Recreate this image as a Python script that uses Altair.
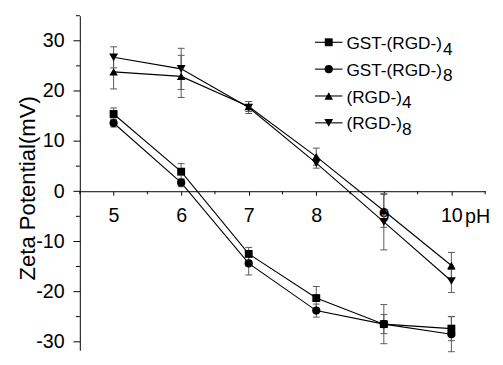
import altair as alt
import pandas as pd

# ---------------- data ----------------
ph = [5, 6, 7, 8, 9, 10]
series_names = ["GST-(RGD-)4", "GST-(RGD-)8", "(RGD-)4", "(RGD-)8"]
legend_main = ["GST-(RGD-)", "GST-(RGD-)", "(RGD-)", "(RGD-)"]
legend_sub = ["4", "8", "4", "8"]

gst4 = [15.4, 3.9, -12.5, -21.3, -26.5, -27.4]
gst4_err = [1.2, 1.6, 1.3, 2.3, 3.9, 2.4]
gst8 = [13.6, 1.7, -14.4, -23.8, -26.5, -28.5]
gst8_err = [0.8, 0.8, 2.3, 1.3, 1.9, 3.5]
rgd4 = [23.8, 22.9, 16.9, 6.9, -3.9, -14.8]
rgd4_err = [3.4, 4.2, 1.0, 1.7, 3.3, 2.6]
rgd8 = [26.7, 24.4, 16.7, 5.6, -6.1, -17.9]
rgd8_err = [2.1, 4.1, 1.2, 1.0, 5.6, 2.3]

y_major = [-30, -20, -10, 0, 10, 20, 30]
y_minor = [-25, -15, -5, 5, 15, 25, 35]
x_major = [5, 6, 7, 8, 9, 10]
x_minor = [4.5, 5.5, 6.5, 7.5, 8.5, 9.5, 10.5]

# ---------------- styling / layout ----------------
shapes = ["square", "circle", "triangle-up", "triangle-down"]
sizes = [64, 81, 100, 100]
FONT = "Liberation Sans"
W, H = 412, 340
XMIN, XMAX = 4.5, 10.5
YMIN, YMAX = -31.7, 35

values = [gst4, gst8, rgd4, rgd8]
errs = [gst4_err, gst8_err, rgd4_err, rgd8_err]
rows = []
for name, vals, es in zip(series_names, values, errs):
    for p, v, e in zip(ph, vals, es):
        rows.append({"ph": p, "value": v, "lo": v - e, "hi": v + e, "series": name})
df = pd.DataFrame(rows)

xs = alt.Scale(domain=[XMIN, XMAX], nice=False, zero=False)
ys = alt.Scale(domain=[YMIN, YMAX], nice=False, zero=False)
shape_scale = alt.Scale(domain=series_names, range=shapes)
size_scale = alt.Scale(domain=series_names, range=sizes)

x_zero_offset = -H * (0 - YMIN) / (YMAX - YMIN)

x_axis = alt.Axis(
    values=x_major, tickSize=4, offset=x_zero_offset, labelPadding=11,
    labelFontSize=20, labelFont=FONT, labelFlush=False, labelOverlap=False,
    labelExpr="'' + datum.value",
    title="pH", titleFont=FONT, titleFontSize=20, titleFontWeight="normal",
    titleX=391, titleY=32, titleAlign="left", titleBaseline="alphabetic",
    grid=False)
y_axis = alt.Axis(
    values=y_major, tickSize=7, labelPadding=9, labelFontSize=20,
    labelFont=FONT, labelFlush=False, labelOverlap=False,
    labelExpr="'' + datum.value",
    title="Zeta Potential(mV)", titleFont=FONT, titleFontSize=22.5,
    titleFontWeight="normal", titleAngle=270, titleX=-46, titleY=175,
    titleAlign="center", titleBaseline="alphabetic", grid=False)


def X(f):
    return alt.X(f, scale=xs, axis=x_axis)


def Y(f):
    return alt.Y(f, scale=ys, axis=y_axis)


base = alt.Chart(df)

lines = base.mark_line(color="black", strokeWidth=1.1).encode(
    x=X("ph:Q"), y=Y("value:Q"), detail="series:N",
)

ERR_COLOR = "#5a5a5a"
err_rules = base.mark_rule(color=ERR_COLOR, strokeWidth=1).encode(
    x=X("ph:Q"), y=Y("lo:Q"), y2="hi:Q",
)
cap_lo = base.mark_tick(orient="horizontal", color=ERR_COLOR, size=7, thickness=1, opacity=1).encode(
    x=X("ph:Q"), y=Y("lo:Q"),
)
cap_hi = base.mark_tick(orient="horizontal", color=ERR_COLOR, size=7, thickness=1, opacity=1).encode(
    x=X("ph:Q"), y=Y("hi:Q"),
)

points = base.mark_point(filled=True, color="black", opacity=1).encode(
    x=X("ph:Q"), y=Y("value:Q"),
    shape=alt.Shape("series:N", scale=shape_scale, legend=None),
    size=alt.Size("series:N", scale=size_scale, legend=None),
)

# minor ticks
ymin_df = pd.DataFrame({"v": y_minor, "x0": [XMIN] * len(y_minor)})
y_minor_ticks = alt.Chart(ymin_df).mark_tick(
    orient="horizontal", color="black", size=4, thickness=1, xOffset=-2, opacity=1
).encode(x=X("x0:Q"), y=Y("v:Q"))
xmin_df = pd.DataFrame({"v": x_minor, "y0": [0] * len(x_minor)})
x_minor_ticks = alt.Chart(xmin_df).mark_tick(
    orient="vertical", color="black", size=3, thickness=1, yOffset=1.5, opacity=1
).encode(x=X("v:Q"), y=Y("y0:Q"))

# ---------------- manual legend (with subscripts) ----------------
LEG_FS = 17.5
widths = {"G": 778, "S": 667, "T": 611, "-": 333, "(": 333, ")": 333, "R": 722, "D": 722}


def px_to_x(px):
    return XMIN + px / W * (XMAX - XMIN)


def py_to_y(py):
    return YMAX - py / H * (YMAX - YMIN)


leg_rows = []
for i, (name, main, sub) in enumerate(zip(series_names, legend_main, legend_sub)):
    cy = 27 + i * 27.3
    tw = sum(widths[c] for c in main) / 1000 * LEG_FS
    leg_rows.append({
        "series": name, "main": main, "sub": sub,
        "lx1": px_to_x(239), "lx2": px_to_x(267), "sx": px_to_x(253),
        "cy": py_to_y(cy), "ty": py_to_y(cy + 6.7), "suby": py_to_y(cy + 12.5),
        "tx": px_to_x(271), "subx": px_to_x(271 + tw),
    })
leg = pd.DataFrame(leg_rows)
lbase = alt.Chart(leg)
leg_lines = lbase.mark_rule(color="black", strokeWidth=1.1).encode(
    x=X("lx1:Q"), x2="lx2:Q", y=Y("cy:Q"),
)
leg_pts = lbase.mark_point(filled=True, color="black", opacity=1).encode(
    x=X("sx:Q"), y=Y("cy:Q"),
    shape=alt.Shape("series:N", scale=shape_scale, legend=None),
    size=alt.Size("series:N", scale=size_scale, legend=None),
)
leg_text = lbase.mark_text(align="left", baseline="alphabetic", font=FONT,
                           fontSize=LEG_FS, color="black").encode(
    x=X("tx:Q"), y=Y("ty:Q"), text="main:N",
)
leg_sub = lbase.mark_text(align="left", baseline="alphabetic", font=FONT,
                          fontSize=LEG_FS, color="black").encode(
    x=X("subx:Q"), y=Y("suby:Q"), text="sub:N",
)

chart = alt.layer(
    lines, err_rules, cap_lo, cap_hi, points, y_minor_ticks, x_minor_ticks,
    leg_lines, leg_pts, leg_text, leg_sub,
).properties(
    width=W, height=H,
    padding={"left": 73, "top": 5, "right": 10, "bottom": 0},
    autosize=alt.AutoSizeParams(type="none"),
    background="white",
).configure_view(stroke=None).configure_axis(
    domainColor="black", tickColor="black", labelColor="black",
    titleColor="black", domainWidth=1, tickWidth=1,
)

chart.save("out.html", embed_options={"renderer": "svg", "actions": False})
